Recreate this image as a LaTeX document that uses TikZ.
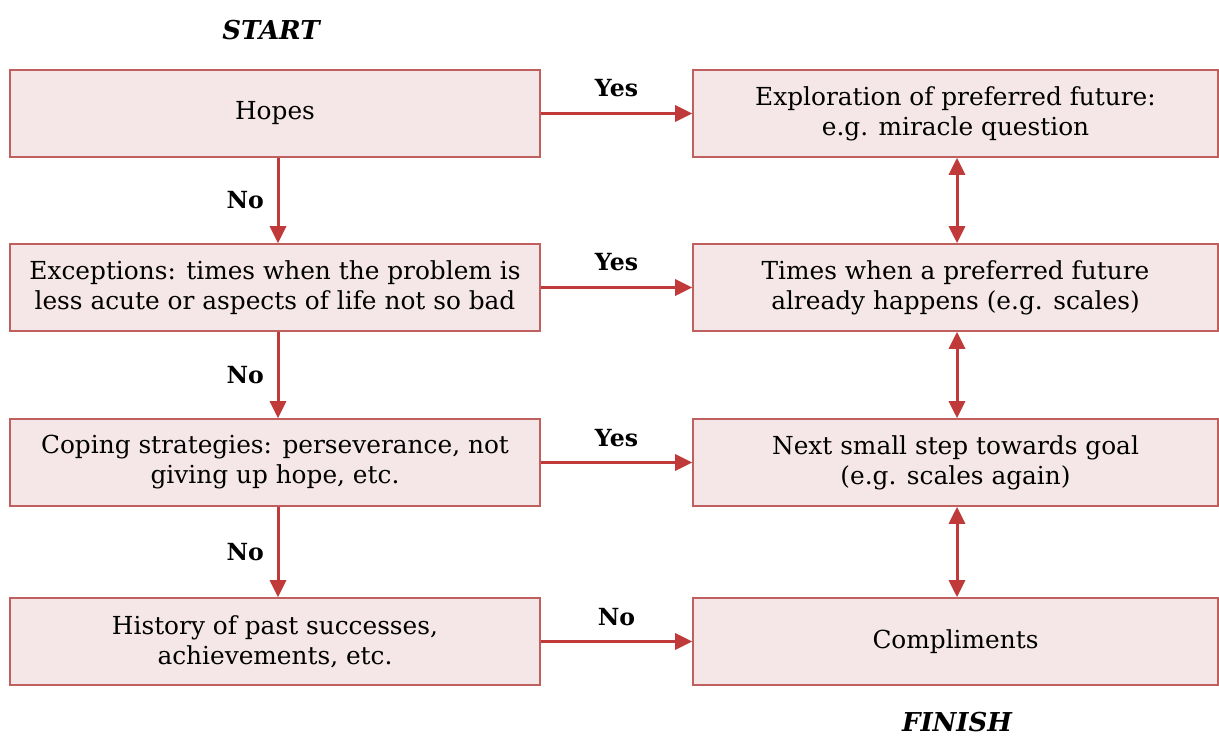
\documentclass[tikz,border=0pt]{standalone}
\usepackage{fontspec}
\setmainfont{DejaVu Serif}
\usetikzlibrary{arrows.meta}
\definecolor{boxfill}{HTML}{F5E7E7}
\definecolor{boxline}{HTML}{C0605E}
\definecolor{arr}{HTML}{C03A3A}
\begin{document}
\begin{tikzpicture}[x=0.5pt,y=-0.5pt,
  box/.style={draw=boxline, line width=0.8pt, fill=boxfill, align=center, inner sep=0pt, font=\fontsize{12.4}{15}\selectfont},
  lbox/.style={box, minimum width=265pt, minimum height=43.5pt},
  rbox/.style={box, minimum width=262.5pt, minimum height=43.5pt},
  conn/.style={draw=arr, line width=1.5pt, -{Triangle[length=8.5pt,width=8pt]}},
  dconn/.style={draw=arr, line width=1.5pt, {Triangle[length=8.5pt,width=8pt]}-{Triangle[length=8.5pt,width=8pt]}},
  lab/.style={font=\fontsize{11.8}{13}\selectfont\bfseries},
  endlab/.style={font=\fontsize{13}{14}\selectfont\bfseries\itshape}]
\useasboundingbox (0,0) rectangle (1219,742);
\node[endlab] (start) at (271,30) {START};
\node[endlab] (finish) at (957,722) {FINISH};
\node[lbox] (hopes) at (275,113.5) {Hopes};
\node[lbox] (exc) at (275,287.5) {Exceptions: times when the problem is\\less acute or aspects of life not so bad};
\node[lbox] (cop) at (275,462.5) {Coping strategies: perseverance, not\\giving up hope, etc.};
\node[lbox] (hist) at (275,641.5) {History of past successes,\\achievements, etc.};
\node[rbox] (expl) at (955.5,113.5) {Exploration of preferred future:\\e.g. miracle question};
\node[rbox] (times) at (955.5,287.5) {Times when a preferred future\\already happens (e.g. scales)};
\node[rbox] (next) at (955.5,462.5) {Next small step towards goal\\(e.g. scales again)};
\node[rbox] (comp) at (955.5,641.5) {Compliments};
% horizontal
\draw[conn] (hopes.east) -- (expl.west) node[lab, midway, above=4pt] {Yes};
\draw[conn] (exc.east) -- (times.west) node[lab, midway, above=4pt] {Yes};
\draw[conn] (cop.east) -- (next.west) node[lab, midway, above=4pt] {Yes};
\draw[conn] (hist.east) -- (comp.west) node[lab, midway, above=4pt] {No};
% vertical left
\draw[conn] ([xshift=1.5pt]hopes.south) -- ([xshift=1.5pt]exc.north) node[lab, midway, left=3pt] {No};
\draw[conn] ([xshift=1.5pt]exc.south) -- ([xshift=1.5pt]cop.north) node[lab, midway, left=3pt] {No};
\draw[conn] ([xshift=1.5pt]cop.south) -- ([xshift=1.5pt]hist.north) node[lab, midway, left=3pt] {No};
% vertical right
\draw[dconn] ([xshift=0.75pt]expl.south) -- ([xshift=0.75pt]times.north);
\draw[dconn] ([xshift=0.75pt]times.south) -- ([xshift=0.75pt]next.north);
\draw[dconn] ([xshift=0.75pt]next.south) -- ([xshift=0.75pt]comp.north);
\end{tikzpicture}
\end{document}
